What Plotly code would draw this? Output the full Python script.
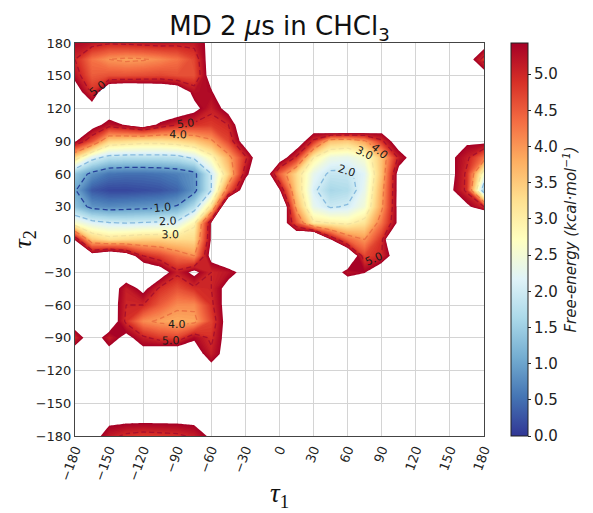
import plotly.graph_objects as go

# ---------------- data ----------------
T_MAX = 5.43  # top of the colour scale (kcal/mol); cells above it are empty

tau1 = [-180, -165, -150, -135, -120, -105, -90, -75, -60, -45, -30, -15, 0,
        15, 30, 45, 60, 75, 90, 105, 120, 135, 150, 165, 180]
tau2 = [-180, -165, -150, -135, -120, -105, -90, -75, -60, -45, -30, -15, 0,
        15, 30, 45, 60, 75, 90, 105, 120, 135, 150, 165, 180]

# free-energy rows, one per tau2 value, columns follow tau1
fe_p180 = [5.35, 5.2, 5.05, 5.1, 5.15, 5.2, 5.15, 5.15, 5.6, 6.0, 6.0, 6.0, 6.0, 6.0, 6.0, 6.0, 6.0, 6.0, 6.0, 6.0, 6.0, 6.0, 6.0, 6.0, 5.8]
fe_p165 = [5.0, 4.3, 4.0, 3.9, 3.95, 4.1, 4.3, 4.7, 5.8, 6.0, 6.0, 6.0, 6.0, 6.0, 6.0, 6.0, 6.0, 6.0, 6.0, 6.0, 6.0, 6.0, 6.0, 5.8, 4.8]
fe_p150 = [5.25, 4.5, 4.6, 4.6, 4.65, 4.7, 4.6, 4.6, 5.75, 6.0, 6.0, 6.0, 6.0, 6.0, 6.0, 6.0, 6.0, 6.0, 6.0, 6.0, 6.0, 6.0, 6.0, 6.0, 5.8]
fe_p135 = [5.8, 4.9, 6.25, 6.4, 6.3, 6.2, 6.0, 5.25, 5.35, 6.3, 6.0, 6.0, 6.0, 6.0, 6.0, 6.0, 6.0, 6.0, 6.0, 6.0, 6.0, 6.0, 6.0, 6.0, 6.0]
fe_p120 = [6.0, 5.78, 5.9, 6.2, 6.2, 6.1, 5.9, 5.6, 5.1, 5.65, 6.1, 6.0, 6.0, 6.0, 6.0, 6.0, 6.0, 6.0, 6.0, 6.0, 6.0, 6.0, 6.0, 6.0, 6.0]
fe_p105 = [6.0, 5.71, 5.2, 5.47, 5.8, 5.3, 5.0, 4.9, 4.8, 5.0, 6.07, 6.0, 6.0, 6.0, 5.98, 7.4, 7.4, 7.0, 5.98, 6.0, 6.0, 6.0, 6.0, 6.0, 6.0]
fe_p90 = [5.5, 4.6, 3.4, 3.3, 3.2, 3.2, 3.3, 3.5, 3.9, 4.7, 5.8, 6.0, 6.0, 5.92, 4.9, 3.6, 3.5, 3.9, 4.9, 5.85, 6.0, 6.0, 6.0, 5.53, 5.6]
fe_p75 = [3.3, 2.2, 1.8, 1.75, 1.75, 1.75, 1.8, 2.1, 2.8, 3.8, 4.9, 6.1, 5.83, 4.9, 3.0, 2.4, 2.3, 2.6, 3.6, 5.1, 5.8, 6.0, 5.57, 5.1, 4.3]
fe_p60 = [1.4, 0.85, 0.55, 0.5, 0.5, 0.55, 0.65, 0.85, 2.0, 3.4, 5.25, 6.2, 4.45, 3.3, 2.3, 1.9, 1.9, 2.2, 3.6, 5.7, 6.0, 6.0, 5.66, 4.9, 2.6]
fe_p45 = [1.05, 0.3, 0.15, 0.15, 0.2, 0.25, 0.4, 0.85, 2.0, 4.4, 5.9, 6.3, 5.5, 3.4, 2.1, 1.6, 1.7, 2.3, 3.8, 5.67, 6.0, 6.0, 5.56, 4.9, 1.5]
fe_p30 = [1.35, 0.85, 0.75, 0.8, 0.85, 0.9, 1.05, 1.7, 3.2, 6.8, 6.5, 6.0, 6.66, 3.8, 2.3, 1.95, 2.05, 2.5, 3.9, 5.66, 6.0, 6.0, 6.0, 5.56, 5.0]
fe_p15 = [2.6, 2.2, 2.05, 2.0, 2.05, 2.1, 2.15, 2.9, 5.5, 6.5, 6.0, 6.0, 6.06, 4.6, 3.1, 3.0, 2.9, 3.2, 4.3, 5.6, 6.0, 6.0, 6.0, 6.0, 7.0]
fe_0 = [5.4, 3.5, 3.2, 3.3, 3.4, 3.4, 3.3, 3.3, 5.5, 6.5, 6.0, 6.0, 6.0, 6.3, 7.5, 5.45, 4.4, 4.0, 4.9, 7.2, 6.0, 6.0, 6.0, 6.0, 6.0]
fe_m15 = [6.0, 5.8, 6.25, 5.87, 5.0, 4.7, 4.3, 4.0, 5.7, 6.2, 6.0, 6.0, 6.0, 6.0, 6.0, 6.0, 6.4, 4.7, 5.0, 5.91, 6.0, 6.0, 6.0, 6.0, 6.0]
fe_m30 = [6.0, 6.0, 6.0, 6.0, 6.07, 5.8, 5.1, 5.6, 5.0, 5.2, 5.67, 6.0, 6.0, 6.0, 6.0, 5.9, 5.2, 5.4, 6.0, 6.0, 6.0, 6.0, 6.0, 6.0, 6.0]
fe_m45 = [6.0, 6.0, 5.9, 5.1, 5.6, 4.9, 4.6, 4.9, 5.0, 5.7, 6.0, 6.0, 6.0, 6.0, 6.0, 6.0, 6.05, 6.0, 6.0, 6.0, 6.0, 6.0, 6.0, 6.0, 6.0]
fe_m60 = [6.0, 6.0, 5.9, 5.0, 5.0, 4.5, 4.1, 4.1, 4.9, 5.75, 6.0, 6.0, 6.0, 6.0, 6.0, 6.0, 6.0, 6.0, 6.0, 6.0, 6.0, 6.0, 6.0, 6.0, 6.0]
fe_m75 = [5.9, 6.0, 6.0, 4.9, 4.1, 3.9, 3.8, 3.85, 4.7, 5.75, 6.0, 6.0, 6.0, 6.0, 6.0, 6.0, 6.0, 6.0, 6.0, 6.0, 6.0, 6.0, 6.0, 6.0, 6.0]
fe_m90 = [5.0, 5.87, 5.1, 5.63, 5.1, 4.8, 4.7, 5.35, 4.9, 5.75, 6.0, 6.0, 6.0, 6.0, 6.0, 6.0, 6.0, 6.0, 6.0, 6.0, 6.0, 6.0, 6.0, 6.0, 6.0]
fe_m105 = [5.9, 6.0, 5.72, 6.0, 5.72, 6.0, 6.08, 5.8, 5.1, 5.76, 6.0, 6.0, 6.0, 6.0, 6.0, 6.0, 6.0, 6.0, 6.0, 6.0, 6.0, 6.0, 6.0, 6.0, 6.0]
fe_m120 = [6.0, 6.0, 6.0, 6.0, 6.0, 6.0, 6.0, 6.0, 5.72, 6.0, 6.0, 6.0, 6.0, 6.0, 6.0, 6.0, 6.0, 6.0, 6.0, 6.0, 6.0, 6.0, 6.0, 6.0, 6.0]
fe_m135 = [6.0, 6.0, 6.0, 6.0, 6.0, 6.0, 6.0, 6.0, 6.0, 6.0, 6.0, 6.0, 6.0, 6.0, 6.0, 6.0, 6.0, 6.0, 6.0, 6.0, 6.0, 6.0, 6.0, 6.0, 6.0]
fe_m150 = [6.0, 6.0, 6.0, 6.0, 6.0, 6.0, 6.0, 6.0, 6.0, 6.0, 6.0, 6.0, 6.0, 6.0, 6.0, 6.0, 6.0, 6.0, 6.0, 6.0, 6.0, 6.0, 6.0, 6.0, 6.0]
fe_m165 = [6.0, 6.0, 5.6, 5.6, 5.6, 5.6, 5.6, 5.6, 6.0, 6.0, 6.0, 6.0, 6.0, 6.0, 6.0, 6.0, 6.0, 6.0, 6.0, 6.0, 6.0, 6.0, 6.0, 6.0, 6.0]
fe_m180 = [6.0, 5.72, 5.15, 4.9, 4.8, 4.85, 4.9, 5.1, 5.55, 6.0, 6.0, 6.0, 6.0, 6.0, 6.0, 6.0, 6.0, 6.0, 6.0, 6.0, 6.0, 6.0, 6.0, 6.0, 6.0]

line_levels = [1.0, 2.0, 3.0, 4.0, 5.0]
tick_vals = [-180, -150, -120, -90, -60, -30, 0, 30, 60, 90, 120, 150, 180]
tick_text = ['\u2212180', '\u2212150', '\u2212120', '\u221290', '\u221260', '\u221230', '0',
             '30', '60', '90', '120', '150', '180']
cbar_vals = [0.0, 0.5, 1.0, 1.5, 2.0, 2.5, 3.0, 3.5, 4.0, 4.5, 5.0]

# ---------------- styling ----------------
rdylbu_r = ['#313695', '#4575b4', '#74add1', '#abd9e9', '#e0f3f8', '#ffffbf',
            '#fee090', '#fdae61', '#f46d43', '#d73027', '#a50026']
line_colors = ['#26409a', '#86bade', '#f3e3a0', '#ec7444', '#a8102c']

# page body has an 8px default margin: build the figure 8px smaller
OFF = 8
W, H = 593 - OFF, 513 - OFF
PL, PT, PR, PB = 75 - OFF, 43 - OFF, 484 - OFF, 436 - OFF  # plot-area edges in figure px
PW, PH = PR - PL, PB - PT

z = [fe_m180, fe_m165, fe_m150, fe_m135, fe_m120, fe_m105, fe_m90, fe_m75, fe_m60,
     fe_m45, fe_m30, fe_m15, fe_0, fe_p15, fe_p30, fe_p45, fe_p60, fe_p75, fe_p90,
     fe_p105, fe_p120, fe_p135, fe_p150, fe_p165, fe_p180]

# filled part: drawn on -z so the empty region (> T_MAX) is the transparent background
cs = 0.05
nc = int((T_MAX + cs * 1e-6) / cs) + 1
lo = -T_MAX - cs / 2
span = nc * cs
fill_scale = [[0.0, 'rgba(255,255,255,0)']]
for k in range(10, -1, -1):
    zz = k / 10 * T_MAX
    p = (-zz - lo) / span
    p = min(max(p, 0.0), 1.0)
    if k == 0:
        p = 1.0
    fill_scale.append([p, rdylbu_r[k]])

neg_z = [[-v for v in row] for row in z]

fig = go.Figure()
fig.add_trace(go.Contour(
    x=tau1, y=tau2, z=neg_z,
    autocontour=False,
    contours=dict(start=-T_MAX, end=0, size=cs, coloring='fill', showlines=False),
    line=dict(width=0, smoothing=0),
    colorscale=fill_scale, showscale=False, hoverinfo='skip'))

for lvl, col in zip(line_levels, line_colors):
    fig.add_trace(go.Contour(
        x=tau1, y=tau2, z=z,
        autocontour=False,
        contours=dict(start=lvl, end=lvl, size=1, coloring='none',
                      showlabels=True, labelformat='.1f',
                      labelfont=dict(size=11, color='#1a1a1a', family='DejaVu Sans')),
        line=dict(color=col, width=1.3, dash='5px,3px', smoothing=0),
        showscale=False, hoverinfo='skip'))

cb_scale = [[i / 10, c] for i, c in enumerate(rdylbu_r)]
fig.add_trace(go.Scatter(
    x=[None], y=[None], mode='markers', showlegend=False, hoverinfo='skip',
    marker=dict(color=[0], colorscale=cb_scale, cmin=0, cmax=T_MAX, showscale=True,
                colorbar=dict(
                    x=(511 - 75) / 409, xanchor='left', xpad=0,
                    y=0.5, yanchor='middle', ypad=0, len=1, lenmode='fraction',
                    thickness=17, thicknessmode='pixels',
                    outlinewidth=1, outlinecolor='#222',
                    tickvals=cbar_vals, ticktext=['%.1f' % v for v in cbar_vals],
                    ticks='outside', ticklen=3, tickcolor='#222',
                    tickfont=dict(size=15, color='#222'),
                    title=dict(text='<i>Free-energy (kcal\u00b7mol<sup>\u22121</sup>)</i>',
                               side='right', font=dict(size=15, color='#222'))))))

axis_common = dict(range=[-180, 180], tickvals=tick_vals, ticktext=tick_text,
                   showgrid=True, gridcolor='#d4d4d4', gridwidth=1,
                   showline=True, mirror=True, linecolor='#444', linewidth=1,
                   zeroline=False, ticks='', tickfont=dict(size=13, color='#222'))

fig.update_layout(
    width=W, height=H,
    margin=dict(l=PL, r=W - PR, t=PT, b=H - PB),
    paper_bgcolor='white', plot_bgcolor='white',
    font=dict(family='DejaVu Sans', color='#222'),
    showlegend=False,
    title=dict(text='MD 2 <i>\u03bc</i>s in CHCl<sub>3</sub>', x=0.5, xref='paper',
               xanchor='center', y=1 - (26 - OFF) / H, yref='container', yanchor='middle',
               font=dict(size=26, color='#111')),
    xaxis=dict(tickangle=-70, **axis_common),
    yaxis=dict(tickangle=0, **axis_common),
    annotations=[
        dict(text='<i>\u03c4</i><sub>1</sub>', x=0.5, y=(PB - (495 - OFF)) / PH, xref='paper',
             yref='paper', showarrow=False, xanchor='center', yanchor='middle',
             font=dict(size=27, family='Liberation Serif', color='#111')),
        dict(text='<i>\u03c4</i><sub>2</sub>', x=((23 - OFF) - PL) / PW, y=0.5, xref='paper',
             yref='paper', showarrow=False, xanchor='center', yanchor='middle',
             textangle=-90, font=dict(size=26, family='Liberation Serif', color='#111')),
    ],
)

fig.write_html('out.html')
